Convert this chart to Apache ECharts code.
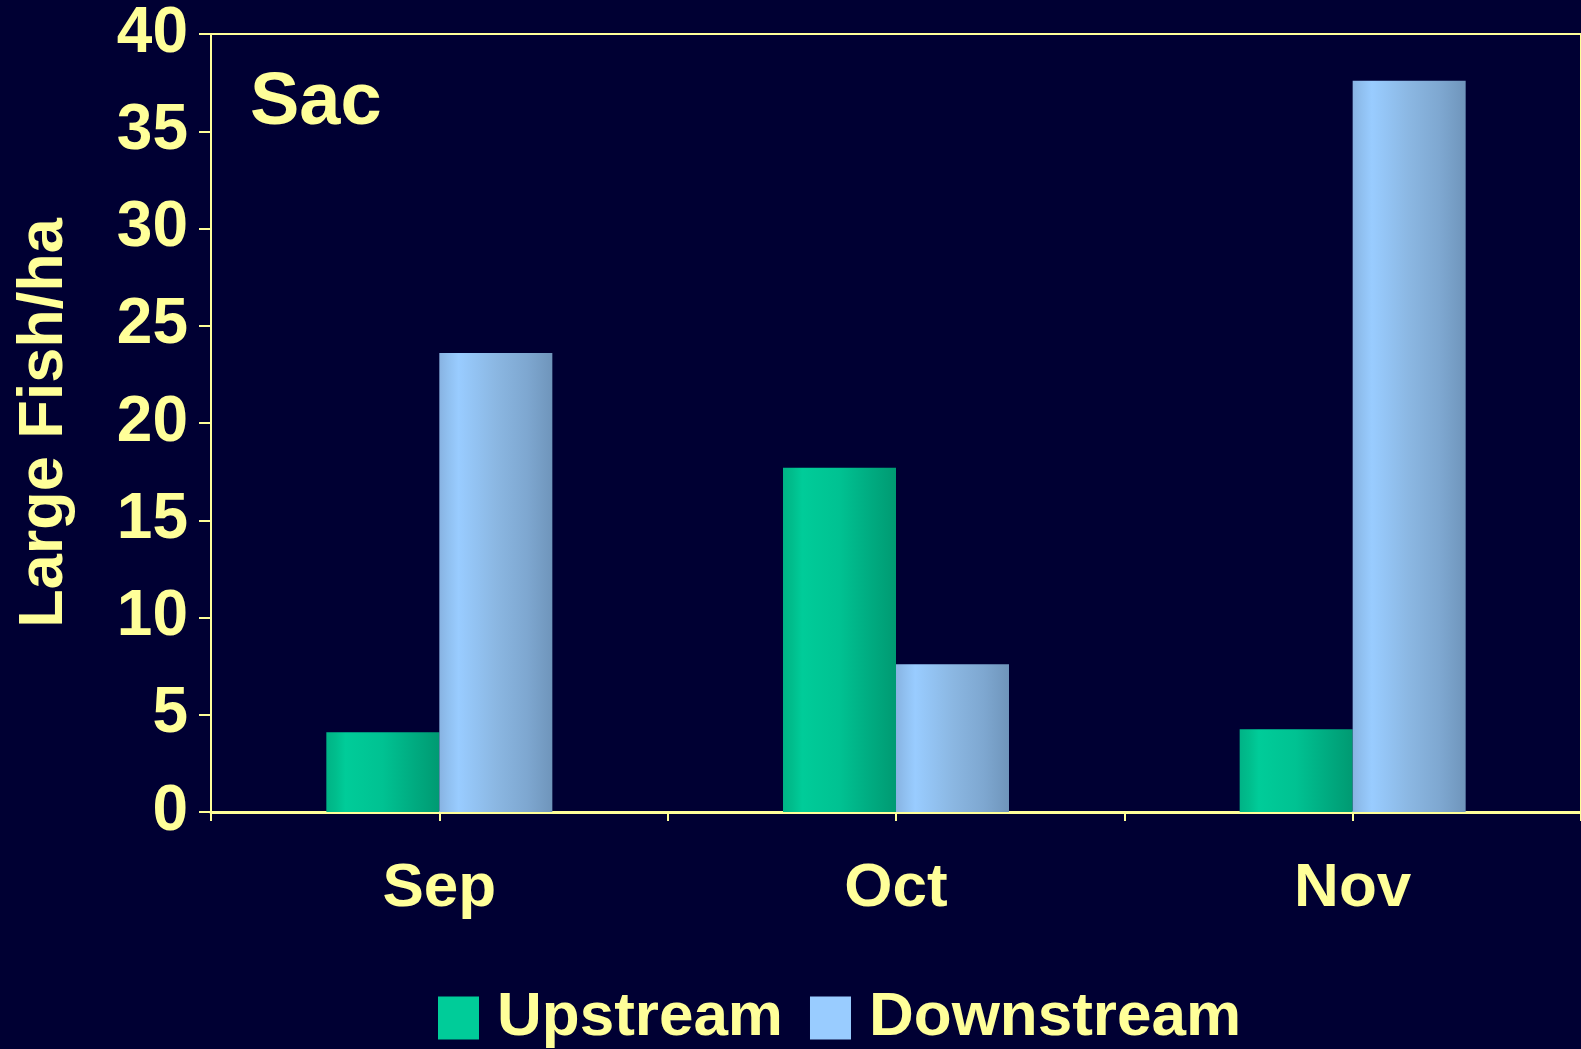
<!DOCTYPE html>
<html>
<head>
<meta charset="utf-8">
<script src="https://cdn.jsdelivr.net/npm/echarts@6/dist/echarts.min.js"></script>
<style>
html,body{margin:0;padding:0;background:#000033;}
#c{width:1581px;height:1049px;}
</style>
</head>
<body>
<div id="c"></div>
<script>
const categories = ['Sep', 'Oct', 'Nov'];
const upstream = [4.1, 17.7, 4.25];
const downstream = [23.6, 7.6, 37.6];
const seriesNames = ['Upstream', 'Downstream'];
const yTicks = [0, 5, 10, 15, 20, 25, 30, 35, 40];

const FONT = "'Liberation Sans', Arial, sans-serif";
const TXT = '#ffff99';

function grad(stops) {
  return new echarts.graphic.LinearGradient(0, 0, 1, 0,
    stops.map(s => ({offset: s[0], color: s[1]})));
}
const upGrad = grad([[0,'#00b386'],[0.08,'#00bd8c'],[0.17,'#00cc99'],[0.5,'#00c292'],[0.75,'#00ad82'],[1,'#009a72']]);
const dnGrad = grad([[0,'#88b3e2'],[0.08,'#90c0f0'],[0.17,'#99ccff'],[0.5,'#8bb7e2'],[0.78,'#7ea7d0'],[1,'#6f95bb']]);

const chart = echarts.init(document.getElementById('c'), null, {renderer: 'canvas'});
chart.setOption({
  backgroundColor: '#000033',
  animation: false,
  title: {
    text: 'Sac', left: 250, top: 67, padding: 0,
    textStyle: {color: TXT, fontFamily: FONT, fontWeight: 'bold', fontSize: 74}
  },
  grid: {
    left: 211, top: 34, bottom: 237, right: -4,
    show: true, borderColor: TXT, borderWidth: 2, backgroundColor: 'transparent'
  },
  legend: {
    left: 438, top: 987, itemWidth: 41, itemHeight: 43, itemGap: 27,
    icon: 'rect', padding: 0,
    textStyle: {color: TXT, fontFamily: FONT, fontWeight: 'bold', fontSize: 62, padding: [0,0,0,13]},
    data: [
      {name: seriesNames[0], itemStyle: {color: '#00cc99'}},
      {name: seriesNames[1], itemStyle: {color: '#99ccff'}}
    ]
  },
  xAxis: [{
    type: 'category', data: categories, position: 'bottom',
    axisLine: {show: true, lineStyle: {color: TXT, width: 3}},
    axisTick: {show: true, length: 9, lineStyle: {color: TXT, width: 2}},
    axisLabel: {color: TXT, fontFamily: FONT, fontWeight: 'bold', fontSize: 62, margin: 46},
    splitLine: {show: false}
  }, {
    type: 'category', data: categories, position: 'bottom',
    axisLine: {show: false},
    axisTick: {show: true, alignWithLabel: true, length: 9, lineStyle: {color: TXT, width: 2}},
    axisLabel: {show: false},
    splitLine: {show: false}
  }],
  yAxis: {
    type: 'value', min: yTicks[0], max: yTicks[yTicks.length-1], interval: yTicks[1]-yTicks[0],
    name: 'Large Fish/ha', nameLocation: 'middle', nameRotate: 90, nameGap: 135,
    nameTextStyle: {color: TXT, fontFamily: FONT, fontWeight: 'bold', fontSize: 63},
    axisLine: {show: true, lineStyle: {color: TXT, width: 2}},
    axisTick: {show: true, inside: false, length: 12, lineStyle: {color: TXT, width: 2}},
    axisLabel: {color: TXT, fontFamily: FONT, fontWeight: 'bold', fontSize: 64, margin: 23, verticalAlign: 'middle', padding: [8,0,0,0]},
    splitLine: {show: false}
  },
  series: [{
    name: seriesNames[0], type: 'bar', data: upstream, barWidth: 113, barGap: '0%',
    itemStyle: {color: upGrad}
  }, {
    name: seriesNames[1], type: 'bar', data: downstream, barWidth: 113, barGap: '0%',
    itemStyle: {color: dnGrad}
  }]
});
</script>
</body>
</html>
